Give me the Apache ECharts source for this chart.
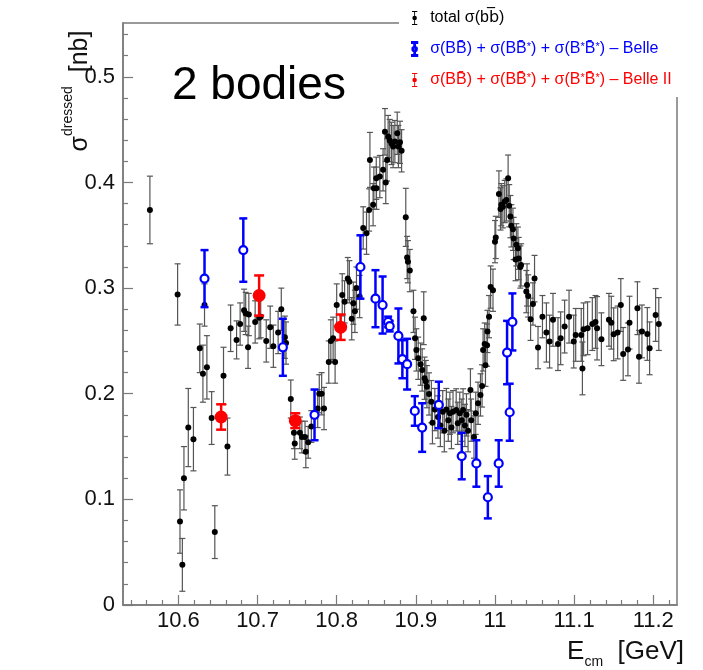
<!DOCTYPE html>
<html><head><meta charset="utf-8">
<script src="https://cdn.jsdelivr.net/npm/echarts@6/dist/echarts.min.js"></script>
<style>html,body{margin:0;padding:0;background:#fff}#c{width:703px;height:670px}</style>
</head><body><div id="c"></div>
<script>
// ---- total sigma(bb) ----
const totalE = [10.564,10.599,10.602,10.605,10.607,10.6125,10.619,10.627,10.631,10.633,10.636,10.642,10.646,10.657,10.662,10.666,10.6735,10.678,10.683,10.685,10.688,10.689,10.697,10.702,10.704,10.711,10.716,10.72,10.726,10.730,10.7345,10.736,10.742,10.746,10.747,10.7535,10.756,10.76,10.761,10.764,10.768,10.776,10.778,10.781,10.784,10.790,10.7926,10.7955,10.798,10.80,10.807,10.81,10.814,10.816,10.819,10.821,10.823,10.825,10.829,10.8335,10.8377,10.841,10.842,10.846,10.847,10.850,10.8503,10.8545,10.8586,10.861,10.862,10.8637,10.865,10.867,10.8693,10.8713,10.8735,10.8765,10.878,10.880,10.882,10.8873,10.889,10.890,10.8924,10.897,10.899,10.9007,10.903,10.906,10.908,10.910,10.911,10.9126,10.914,10.9167,10.9196,10.921,10.924,10.928,10.931,10.934,10.936,10.9386,10.941,10.943,10.945,10.947,10.951,10.953,10.9555,10.958,10.9597,10.962,10.964,10.966,10.969,10.970,10.9735,10.9757,10.9786,10.9817,10.9837,10.985,10.987,10.988,10.990,10.9905,10.9925,10.9945,10.9975,11.0,11.001,11.005,11.007,11.008,11.010,11.0123,11.0145,11.0166,11.018,11.0195,11.0207,11.0227,11.0236,11.026,11.027,11.029,11.030,11.032,11.033,11.0396,11.0405,11.042,11.045,11.048,11.050,11.0544,11.060,11.065,11.069,11.0733,11.0796,11.083,11.088,11.0936,11.0995,11.102,11.109,11.1105,11.112,11.117,11.123,11.127,11.129,11.1345,11.144,11.147,11.150,11.155,11.159,11.162,11.168,11.170,11.180,11.182,11.1857,11.1925,11.1954,11.203,11.207];
const totalV = [0.374,0.294,0.079,0.038,0.120,0.168,0.157,0.243,0.219,0.284,0.225,0.177,0.069,0.217,0.150,0.262,0.251,0.266,0.279,0.276,0.244,0.275,0.268,0.272,0.273,0.250,0.263,0.245,0.258,0.280,0.2535,0.248,0.195,0.163,0.153,0.163,0.159,0.159,0.145,0.154,0.169,0.186,0.200,0.200,0.186,0.230,0.250,0.2525,0.230,0.284,0.2936,0.287,0.309,0.306,0.271,0.2857,0.278,0.300,0.292,0.357,0.352,0.374,0.4214,0.379,0.3946,0.404,0.3946,0.4056,0.412,0.448,0.400,0.4214,0.4435,0.4397,0.437,0.434,0.4387,0.4466,0.434,0.438,0.430,0.367,0.329,0.325,0.3166,0.278,0.2525,0.2415,0.2336,0.228,0.2225,0.2715,0.2147,0.2115,0.2067,0.1998,0.1925,0.1726,0.185,0.178,0.170,0.183,0.165,0.185,0.175,0.1815,0.168,0.183,0.1847,0.172,0.1815,0.175,0.1847,0.170,0.180,0.165,0.2036,0.175,0.159,0.1815,0.191,0.1989,0.2074,0.2415,0.247,0.227,0.246,0.259,0.273,0.301,0.298,0.344,0.348,0.389,0.375,0.379,0.377,0.382,0.3835,0.404,0.378,0.3677,0.359,0.3557,0.347,0.327,0.341,0.3378,0.328,0.320,0.322,0.2967,0.303,0.2926,0.2705,0.285,0.309,0.2437,0.273,0.258,0.2494,0.270,0.247,0.2525,0.2636,0.273,0.2494,0.2557,0.2557,0.224,0.261,0.262,0.266,0.268,0.262,0.2516,0.270,0.2673,0.2563,0.258,0.284,0.2377,0.242,0.2673,0.281,0.235,0.259,0.2566,0.243,0.2746,0.266];
const totalErr = [0.032,0.029,0.03,0.025,0.03,0.037,0.03,0.023,0.027,0.02,0.03,0.025,0.025,0.027,0.027,0.022,0.018,0.02,0.02,0.02,0.02,0.02,0.02,0.02,0.02,0.02,0.02,0.02,0.02,0.02,0.02,0.02,0.018,0.015,0.015,0.015,0.015,0.015,0.015,0.015,0.015,0.018,0.018,0.02,0.02,0.02,0.02,0.02,0.02,0.02,0.02,0.02,0.02,0.02,0.02,0.02,0.02,0.02,0.02,0.02,0.02,0.02,0.026,0.02,0.02,0.02,0.02,0.02,0.02,0.022,0.02,0.02,0.02,0.02,0.02,0.02,0.02,0.02,0.02,0.02,0.02,0.0275,0.02,0.02,0.02,0.02,0.02,0.02,0.02,0.02,0.02,0.025,0.02,0.02,0.02,0.02,0.02,0.02,0.02,0.02,0.02,0.02,0.02,0.02,0.02,0.02,0.02,0.02,0.02,0.02,0.02,0.02,0.02,0.02,0.02,0.02,0.02,0.02,0.02,0.02,0.02,0.02,0.02,0.02,0.02,0.02,0.02,0.02,0.02,0.02,0.02,0.02,0.02,0.022,0.02,0.02,0.02,0.02,0.02,0.022,0.02,0.02,0.02,0.02,0.02,0.02,0.02,0.02,0.02,0.02,0.02,0.02,0.02,0.02,0.02,0.02,0.022,0.02,0.02,0.028,0.025,0.025,0.025,0.025,0.025,0.025,0.025,0.025,0.025,0.025,0.025,0.025,0.025,0.025,0.03,0.025,0.025,0.025,0.025,0.025,0.025,0.025,0.025,0.025,0.025,0.025,0.025,0.025,0.025,0.025,0.025,0.025,0.025,0.025];
// ---- Belle ----
const belleE = [10.633,10.682,10.732,10.772,10.830,10.849,10.858,10.865,10.867,10.878,10.883,10.889,10.8987,10.908,10.929,10.958,10.9765,10.991,11.0047,11.0153,11.0186,11.022];
const belleV = [0.309,0.336,0.244,0.180,0.320,0.290,0.284,0.268,0.264,0.2547,0.2327,0.228,0.1837,0.168,0.1894,0.141,0.134,0.102,0.134,0.239,0.1825,0.268];
const belleErr = [0.027,0.030,0.027,0.024,0.030,0.027,0.027,0.005,0.005,0.026,0.018,0.024,0.014,0.023,0.022,0.022,0.022,0.02,0.022,0.03,0.027,0.027];
// ---- Belle II ----
const belle2E = [10.654,10.702,10.7477,10.805];
const belle2V = [0.178,0.293,0.1745,0.263];
const belle2Err = [0.012,0.019,0.007,0.012];
// ---- axis ticks ----
const xMajor = [10.6,10.7,10.8,10.9,11.0,11.1,11.2];
const xMinor = [10.54,10.56,10.58,10.62,10.64,10.66,10.68,10.72,10.74,10.76,10.78,10.82,10.84,10.86,10.88,10.92,10.94,10.96,10.98,11.02,11.04,11.06,11.08,11.12,11.14,11.16,11.18,11.22];
const yMajor = [0,0.1,0.2,0.3,0.4,0.5];
const yMinor = [0.02,0.04,0.06,0.08,0.12,0.14,0.16,0.18,0.22,0.24,0.26,0.28,0.32,0.34,0.36,0.38,0.42,0.44,0.46,0.48,0.52,0.54];

const X0 = 10.53, X1 = 11.23, Y0 = 0, Y1 = 0.551;
const FONT = 'Liberation Sans';

function errBars(name, E, V, Err, color, width, capHalf, z) {
  return {
    type: 'custom', name: name + '_err', z: z, silent: true,
    data: E.map((e, i) => [e, V[i] - Err[i], V[i] + Err[i]]),
    encode: { x: 0, y: [1, 2] },
    renderItem: function (params, api) {
      const lo = api.coord([api.value(0), api.value(1)]);
      const hi = api.coord([api.value(0), api.value(2)]);
      const st = { stroke: color, lineWidth: width };
      return { type: 'group', children: [
        { type: 'line', shape: { x1: lo[0], y1: lo[1], x2: hi[0], y2: hi[1] }, style: st },
        { type: 'line', shape: { x1: lo[0] - capHalf, y1: lo[1], x2: lo[0] + capHalf, y2: lo[1] }, style: st },
        { type: 'line', shape: { x1: hi[0] - capHalf, y1: hi[1], x2: hi[0] + capHalf, y2: hi[1] }, style: st }
      ]};
    }
  };
}

const iconFull = 'path://M2,0H8V1.2H2Z M4.5,1H5.5V15H4.5Z M2,14.8H8V16H2Z M7.6,8A2.6,2.6 0 1 1 2.4,8A2.6,2.6 0 1 1 7.6,8Z';
const iconOpen = 'path://M2,0H8V1.2H2Z M4.5,1H5.5V5.6H4.5Z M4.5,10.4H5.5V15H4.5Z M2,14.8H8V16H2Z M7.6,8A2.6,2.6 0 1 1 2.4,8A2.6,2.6 0 1 1 7.6,8Z M6.6,8A1.6,1.6 0 1 0 3.4,8A1.6,1.6 0 1 0 6.6,8Z';

const legendText = {
  total: 'total σ(b{o|b\u0305})',
  belle: 'σ(BB\u0304) + σ(BB\u0304{s|*}) + σ(B{s|*}B\u0304{s|*}) – Belle',
  belle2: 'σ(BB\u0304) + σ(BB\u0304{s|*}) + σ(B{s|*}B\u0304{s|*}) – Belle II'
};

const chart = echarts.init(document.getElementById('c'), null, { renderer: 'canvas' });
chart.setOption({
  animation: false,
  backgroundColor: '#fff',
  textStyle: { fontFamily: FONT },
  grid: [
    { left: 123, right: 26, top: 23, bottom: 65, show: true, borderColor: '#7a7a7a', borderWidth: 1.5, backgroundColor: 'transparent' },
    { left: 123, right: 26, top: 23, bottom: 65 }
  ],
  xAxis: [
    { type: 'value', gridIndex: 0, min: X0, max: X1,
      axisLine: { show: true, onZero: false, lineStyle: { color: '#7a7a7a', width: 1.5 } },
      axisTick: { show: true, inside: true, length: 10, customValues: xMajor, lineStyle: { color: '#7a7a7a', width: 1.2 } },
      axisLabel: { show: true, customValues: xMajor, margin: 5, fontSize: 22, color: '#111', fontFamily: FONT,
        formatter: v => String(Math.round(v * 10) / 10) },
      splitLine: { show: false } },
    { type: 'value', gridIndex: 1, min: X0, max: X1,
      axisLine: { show: false, onZero: false },
      axisTick: { show: true, inside: true, length: 5, customValues: xMinor, lineStyle: { color: '#7a7a7a', width: 1.2 } },
      axisLabel: { show: false }, splitLine: { show: false } }
  ],
  yAxis: [
    { type: 'value', gridIndex: 0, min: Y0, max: Y1,
      axisLine: { show: true, onZero: false, lineStyle: { color: '#7a7a7a', width: 1.5 } },
      axisTick: { show: true, inside: true, length: 10, customValues: yMajor, lineStyle: { color: '#7a7a7a', width: 1.2 } },
      axisLabel: { show: true, customValues: yMajor, margin: 8, fontSize: 22, color: '#111', fontFamily: FONT,
        formatter: v => String(Math.round(v * 10) / 10) },
      splitLine: { show: false } },
    { type: 'value', gridIndex: 1, min: Y0, max: Y1,
      axisLine: { show: false, onZero: false },
      axisTick: { show: true, inside: true, length: 5, customValues: yMinor, lineStyle: { color: '#7a7a7a', width: 1.2 } },
      axisLabel: { show: false }, splitLine: { show: false } }
  ],
  legend: {
    orient: 'vertical', left: 406, top: 5, z: 20,
    itemWidth: 9, itemHeight: 14, itemGap: 15,
    selectedMode: false,
    textStyle: { fontSize: 16, fontFamily: FONT, padding: [0, 0, 0, 6],
      rich: { s: { fontSize: 11, verticalAlign: 'top', fontFamily: FONT },
              o: { fontSize: 16, fontFamily: 'DejaVu Sans' } } },
    formatter: name => legendText[name],
    data: [
      { name: 'total', icon: iconFull, itemStyle: { color: '#000' }, textStyle: { color: '#000' } },
      { name: 'belle', icon: iconOpen, itemStyle: { color: '#0000ff' }, textStyle: { color: '#0000ff' } },
      { name: 'belle2', icon: iconFull, itemStyle: { color: '#ff0000' }, textStyle: { color: '#ff0000' } }
    ]
  },
  graphic: [
    { type: 'rect', z: 10, shape: { x: 399, y: 0, width: 304, height: 97 }, style: { fill: '#fff' } },
    { type: 'text', z: 15, x: 172, y: 86, style: { text: '2 bodies', font: '46px "Liberation Sans"', fill: '#000', align: 'left', verticalAlign: 'middle' } },
    { type: 'text', z: 15, x: 77, y: 91, rotation: Math.PI / 2,
      style: { text: '{a|σ}{b|dressed}{a|  [nb]}', align: 'center', verticalAlign: 'middle', fill: '#111',
        rich: { a: { fontSize: 25, fontFamily: FONT, verticalAlign: 'bottom', lineHeight: 32 },
                b: { fontSize: 14, fontFamily: FONT, verticalAlign: 'top', lineHeight: 32 } } } },
    { type: 'text', z: 15, x: 684, y: 654,
      style: { text: '{a|E}{b|cm}{a|  [GeV]}', align: 'right', verticalAlign: 'middle', fill: '#111',
        rich: { a: { fontSize: 26, fontFamily: FONT, verticalAlign: 'top', lineHeight: 26 },
                b: { fontSize: 14, fontFamily: FONT, verticalAlign: 'bottom', lineHeight: 31 } } } }
  ],
  series: [
    errBars('total', totalE, totalV, totalErr, '#555', 1.2, 3, 2),
    { type: 'scatter', name: 'total', z: 3, symbol: 'circle', symbolSize: 6, itemStyle: { color: '#000', opacity: 1 },
      data: totalE.map((e, i) => [e, totalV[i]]) },
    errBars('belle', belleE, belleV, belleErr, '#0000ff', 2.5, 4, 4),
    { type: 'scatter', name: 'belle', z: 5, symbol: 'circle', symbolSize: 8,
      itemStyle: { color: '#fff', borderColor: '#0000ff', borderWidth: 2.2, opacity: 1 },
      data: belleE.map((e, i) => [e, belleV[i]]) },
    errBars('belle2', belle2E, belle2V, belle2Err, '#ff0000', 2.5, 5, 6),
    { type: 'scatter', name: 'belle2', z: 7, symbol: 'circle', symbolSize: 13, itemStyle: { color: '#ff0000', opacity: 1 },
      data: belle2E.map((e, i) => [e, belle2V[i]]) }
  ]
});
</script></body></html>
